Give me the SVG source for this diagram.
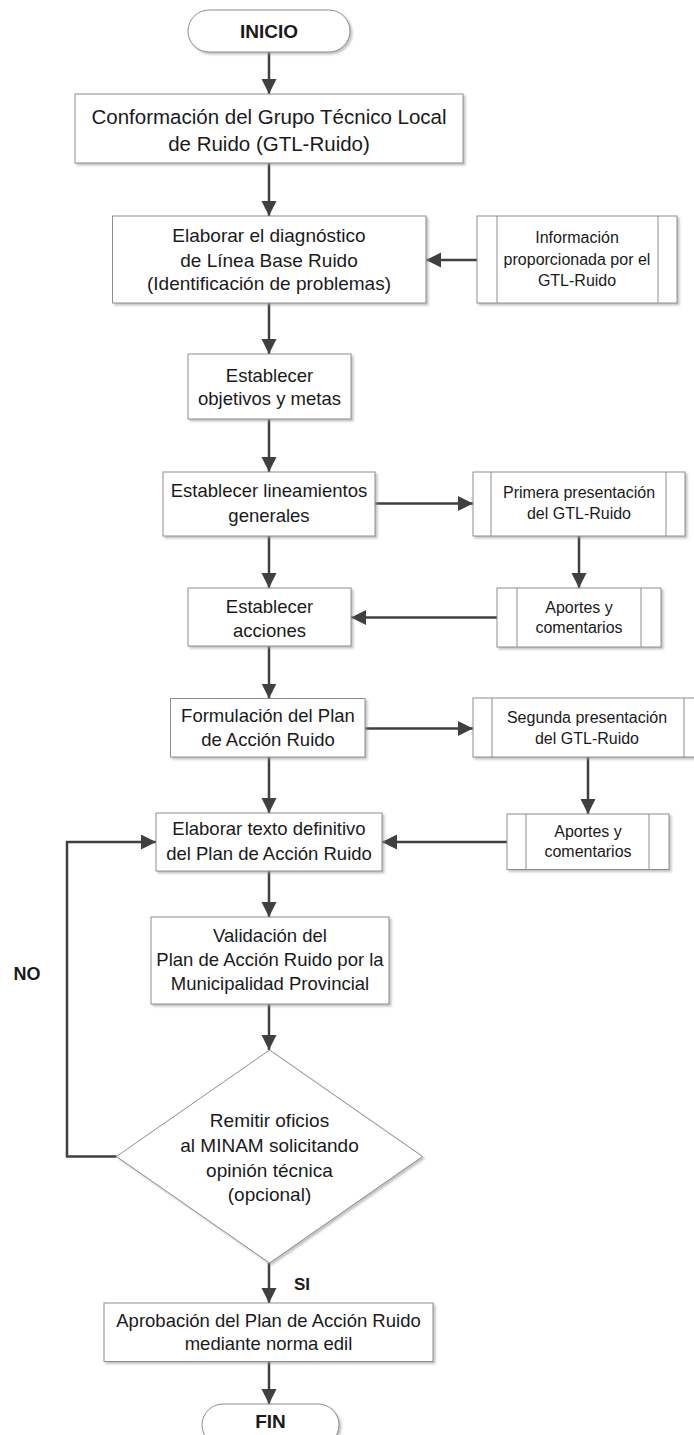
<svg xmlns="http://www.w3.org/2000/svg" width="694" height="1435" viewBox="0 0 694 1435">
<defs>
<filter id="sh" x="-10%" y="-10%" width="130%" height="140%">
<feDropShadow dx="2" dy="2" stdDeviation="1.2" flood-color="#9a9a9a" flood-opacity="0.6"/>
</filter>
<marker id="ah" markerUnits="userSpaceOnUse" markerWidth="16" markerHeight="16" refX="15" refY="7.5" orient="auto">
<path d="M0,0 L15,7.5 L0,15 z" fill="#404040"/>
</marker>
</defs>
<style>
.b{fill:#fff;stroke:#8e8e8e;stroke-width:1;filter:url(#sh)}
.in{stroke:#8e8e8e;stroke-width:1;fill:none}
text{font-family:"Liberation Sans",Arial,sans-serif;fill:#1a1a1a;text-anchor:middle}
.t{font-size:18.5px}
.s{font-size:16px}
.k{font-size:19px;font-weight:bold}
.c{fill:none;stroke:#404040;stroke-width:2.5;marker-end:url(#ah)}
</style>
<rect width="694" height="1435" fill="#fff"/>

<g id="connectors">
<line class="c" x1="269" y1="52" x2="269" y2="94"/>
<line class="c" x1="269" y1="163" x2="269" y2="216"/>
<line class="c" x1="477" y1="260" x2="426" y2="260"/>
<line class="c" x1="269" y1="303" x2="269" y2="354"/>
<line class="c" x1="269" y1="419" x2="269" y2="472"/>
<line class="c" x1="375" y1="503.5" x2="473" y2="503.5"/>
<line class="c" x1="579" y1="536" x2="579" y2="588"/>
<line class="c" x1="269" y1="536" x2="269" y2="588"/>
<line class="c" x1="497" y1="617.5" x2="351" y2="617.5"/>
<line class="c" x1="269" y1="646" x2="269" y2="698.5"/>
<line class="c" x1="365" y1="728.5" x2="473" y2="728.5"/>
<line class="c" x1="588" y1="757" x2="588" y2="814"/>
<line class="c" x1="269" y1="757" x2="269" y2="813"/>
<line class="c" x1="507" y1="842" x2="382" y2="842"/>
<line class="c" x1="269" y1="871" x2="269" y2="917"/>
<line class="c" x1="269" y1="1004" x2="269" y2="1050"/>
<polyline class="c" points="116.5,1156.5 67,1156.5 67,842 156,842"/>
<line class="c" x1="269" y1="1263" x2="269" y2="1303"/>
<line class="c" x1="269" y1="1362" x2="269" y2="1404"/>
</g>

<g id="inicio">
<rect class="b" x="188" y="10" width="162" height="42" rx="21"/>
<text class="k" x="269" y="38">INICIO</text>
</g>

<g id="conformacion">
<rect class="b" x="75" y="94" width="388" height="69"/>
<text style="font-size:20.5px" x="269" y="124">Conformación del Grupo Técnico Local</text>
<text style="font-size:20.5px" x="269" y="150.5">de Ruido (GTL-Ruido)</text>
</g>

<g id="diagnostico">
<rect class="b" x="112.5" y="216" width="313.5" height="87"/>
<text style="font-size:19px" x="269" y="242">Elaborar el diagnóstico</text>
<text style="font-size:19px" x="269" y="266.5">de Línea Base Ruido</text>
<text style="font-size:19px" x="269" y="290">(Identificación de problemas)</text>
</g>

<g id="informacion">
<rect class="b" x="477" y="216" width="200" height="87"/>
<line class="in" x1="497" y1="216" x2="497" y2="303"/>
<line class="in" x1="658" y1="216" x2="658" y2="303"/>
<text class="s" x="577" y="243">Información</text>
<text class="s" x="577" y="265">proporcionada por el</text>
<text class="s" x="577" y="286">GTL-Ruido</text>
</g>

<g id="objetivos">
<rect class="b" x="188" y="354" width="163" height="65"/>
<text class="t" x="269.5" y="381.5">Establecer</text>
<text class="t" x="269.5" y="405">objetivos y metas</text>
</g>

<g id="lineamientos">
<rect class="b" x="163" y="472" width="212" height="64"/>
<text class="t" x="269" y="497">Establecer lineamientos</text>
<text class="t" x="269" y="521.5">generales</text>
</g>

<g id="primera">
<rect class="b" x="473" y="472" width="212" height="64"/>
<line class="in" x1="491" y1="472" x2="491" y2="536"/>
<line class="in" x1="666" y1="472" x2="666" y2="536"/>
<text class="s" x="579" y="498">Primera presentación</text>
<text class="s" x="579" y="519">del GTL-Ruido</text>
</g>

<g id="acciones">
<rect class="b" x="188" y="588" width="163" height="58"/>
<text class="t" x="269.5" y="613">Establecer</text>
<text class="t" x="269.5" y="636.5">acciones</text>
</g>

<g id="aportes1">
<rect class="b" x="497" y="588" width="164" height="59"/>
<line class="in" x1="517" y1="588" x2="517" y2="647"/>
<line class="in" x1="641" y1="588" x2="641" y2="647"/>
<text class="s" x="579" y="613">Aportes y</text>
<text class="s" x="579" y="633">comentarios</text>
</g>

<g id="formulacion">
<rect class="b" x="170.5" y="698.5" width="194.5" height="58.5"/>
<text class="t" x="268" y="721.5">Formulación del Plan</text>
<text class="t" x="268" y="746">de Acción Ruido</text>
</g>

<g id="segunda">
<rect class="b" x="473" y="698" width="229" height="59"/>
<line class="in" x1="492" y1="698" x2="492" y2="757"/>
<line class="in" x1="684" y1="698" x2="684" y2="757"/>
<text class="s" x="587" y="722.5">Segunda presentación</text>
<text class="s" x="587" y="743.5">del GTL-Ruido</text>
</g>

<g id="aportes2">
<rect class="b" x="507" y="814" width="162" height="55.5"/>
<line class="in" x1="526" y1="814" x2="526" y2="869.5"/>
<line class="in" x1="649" y1="814" x2="649" y2="869.5"/>
<text class="s" x="588" y="836.5">Aportes y</text>
<text class="s" x="588" y="856.5">comentarios</text>
</g>

<g id="texto-definitivo">
<rect class="b" x="156" y="813" width="226" height="58"/>
<text class="t" x="269" y="835">Elaborar texto definitivo</text>
<text class="t" x="269" y="859.5">del Plan de Acción Ruido</text>
</g>

<g id="validacion">
<rect class="b" x="151" y="917" width="238" height="87"/>
<text class="t" x="270" y="941.5">Validación del</text>
<text class="t" x="270" y="965.5">Plan de Acción Ruido por la</text>
<text class="t" x="270" y="990">Municipalidad Provincial</text>
</g>

<g id="remitir">
<polygon class="b" points="269.5,1050 422.5,1156.5 269.5,1263 116.5,1156.5"/>
<text style="font-size:19px" x="269.5" y="1127">Remitir oficios</text>
<text style="font-size:19px" x="269.5" y="1152">al MINAM solicitando</text>
<text style="font-size:19px" x="269.5" y="1176.5">opinión técnica</text>
<text style="font-size:19px" x="269.5" y="1200.5">(opcional)</text>
</g>

<g id="label-no">
<text style="font-size:18px;font-weight:bold" x="27" y="980">NO</text>
</g>
<g id="label-si">
<text style="font-size:17px;font-weight:bold" x="302" y="1290">SI</text>
</g>

<g id="aprobacion">
<rect class="b" x="104" y="1303" width="329" height="58.5"/>
<text class="t" x="268.5" y="1326.5">Aprobación del Plan de Acción Ruido</text>
<text class="t" x="268.5" y="1350">mediante norma edil</text>
</g>

<g id="fin">
<rect class="b" x="202" y="1404" width="137" height="42" rx="21"/>
<text class="k" x="270.5" y="1428">FIN</text>
</g>
</svg>
